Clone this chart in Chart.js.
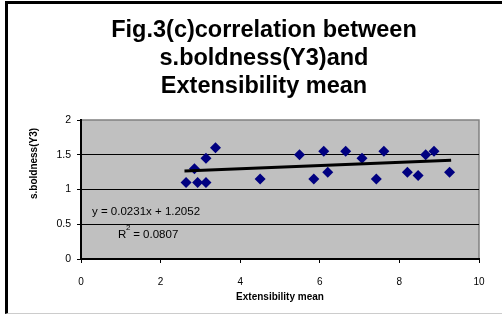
<!DOCTYPE html>
<html lang="en">
<head>
  <meta charset="UTF-8">
  <title>Fig.3(c)</title>
  <script src="https://cdn.jsdelivr.net/npm/chart.js"></script>
  <style>
    body {
      margin: 0;
      width: 502px;
      height: 315px;
      overflow: hidden;
      background: #fff;
      position: relative;
    }
    .frame {
      position: absolute;
      left: 5px;
      top: 1px;
      width: 520px;
      height: 309px;
      border-top: 3px solid #000;
      border-left: 3px solid #000;
      border-bottom: 1px solid #ccc;
    }
    #wrap {
      position: absolute;
      left: 0;
      top: 0;
      width: 502px;
      height: 315px;
    }
  </style>
</head>
<body>
  <div class="frame"></div>
  <div id="wrap"><canvas id="corrChart"></canvas></div>

<script>
  // extensibility mean (x) vs s.boldness(Y3) (y)
  const extMean = [2.64, 2.85, 2.93, 3.14, 3.14, 3.38, 4.5, 5.49, 5.85, 6.1, 6.2, 6.65, 7.06, 7.42, 7.61, 8.2, 8.47, 8.66, 8.87, 9.26];
  const boldness = [1.1, 1.3, 1.1, 1.1, 1.45, 1.6, 1.15, 1.5, 1.15, 1.55, 1.25, 1.55, 1.45, 1.15, 1.55, 1.25, 1.2, 1.5, 1.55, 1.25];
  // linear trend end points
  const trendX = [2.6, 9.3];
  const trendY = [1.265, 1.42];
  const xTicks = [0, 2, 4, 6, 8, 10];
  const yTicks = [0, 0.5, 1, 1.5, 2];

  const FONT = "'Liberation Sans', Arial, sans-serif";

  const plotBg = {
    id: 'plotBg',
    beforeDraw(chart) {
      const a = chart.chartArea, c = chart.ctx;
      c.save();
      c.fillStyle = '#c0c0c0';
      c.fillRect(a.left, a.top, a.right - a.left, a.bottom - a.top);
      c.strokeStyle = '#808080';
      c.lineWidth = 1.5;
      c.beginPath();
      c.moveTo(a.left, a.top);
      c.lineTo(a.right, a.top);
      c.lineTo(a.right, a.bottom);
      c.stroke();
      c.restore();
    }
  };

  // trend equation + y axis title (title sits above centre in the original)
  const extraText = {
    id: 'extraText',
    afterDraw(chart) {
      const c = chart.ctx;
      c.save();
      c.fillStyle = '#000';
      c.textBaseline = 'middle';
      c.font = '11.5px ' + FONT;
      c.fillText('y = 0.0231x + 1.2052', 92, 212);
      c.fillText('R', 118, 235);
      c.font = '8px ' + FONT;
      c.fillText('2', 126, 228);
      c.font = '11.5px ' + FONT;
      c.fillText(' = 0.0807', 130, 235);

      c.translate(34, 163.5);
      c.rotate(-Math.PI / 2);
      c.textAlign = 'center';
      c.font = 'bold 10px ' + FONT;
      c.fillText('s.boldness(Y3)', 0, 0);
      c.restore();
    }
  };

  new Chart(document.getElementById('corrChart'), {
    type: 'scatter',
    data: {
      datasets: [
        {
          label: 'trend',
          type: 'line',
          data: trendX.map((x, i) => ({ x: x, y: trendY[i] })),
          borderColor: '#000',
          borderWidth: 3,
          pointRadius: 0,
          fill: false
        },
        {
          label: 's.boldness',
          data: extMean.map((x, i) => ({ x: x, y: boldness[i] })),
          pointStyle: 'rectRot',
          pointRadius: 5.5,
          backgroundColor: '#000080',
          borderColor: '#000080',
          borderWidth: 0
        }
      ]
    },
    options: {
      responsive: true,
      maintainAspectRatio: false,
      animation: false,
      layout: { padding: { left: 49, right: 23, top: 0, bottom: 0 } },
      plugins: {
        legend: { display: false },
        tooltip: { enabled: false },
        title: {
          display: true,
          text: ['Fig.3(c)correlation between', 's.boldness(Y3)and', 'Extensibility mean'],
          color: '#000',
          font: { family: FONT, size: 23.5, weight: 'bold', lineHeight: 1.2 },
          padding: { top: 16, bottom: 19.4 }
        }
      },
      scales: {
        x: {
          type: 'linear',
          min: 0,
          max: 10,
          afterBuildTicks: s => { s.ticks = xTicks.map(v => ({ value: v })); },
          afterFit: s => { s.height = 56; },
          border: { color: '#000', width: 2 },
          grid: { drawOnChartArea: false, drawTicks: true, tickLength: 4, color: '#000' },
          ticks: { color: '#000', padding: 13, font: { family: FONT, size: 10 } },
          title: {
            display: true,
            text: 'Extensibility mean',
            color: '#000',
            font: { family: FONT, size: 10, weight: 'bold' },
            padding: { top: 4, bottom: 12 }
          }
        },
        y: {
          min: 0,
          max: 2,
          afterBuildTicks: s => { s.ticks = yTicks.map(v => ({ value: v })); },
          afterFit: s => { s.width = 32; },
          border: { color: '#000', width: 2 },
          grid: {
            color: ctx => (ctx.tick && ctx.tick.value === 2 ? 'rgba(0,0,0,0)' : '#000'),
            lineWidth: 1,
            tickLength: 4,
            tickColor: '#000'
          },
          ticks: {
            color: '#000',
            padding: 6,
            font: { family: FONT, size: 10.5 },
            callback: v => String(v)
          }
        }
      }
    },
    plugins: [plotBg, extraText]
  });
</script>
</body>
</html>
